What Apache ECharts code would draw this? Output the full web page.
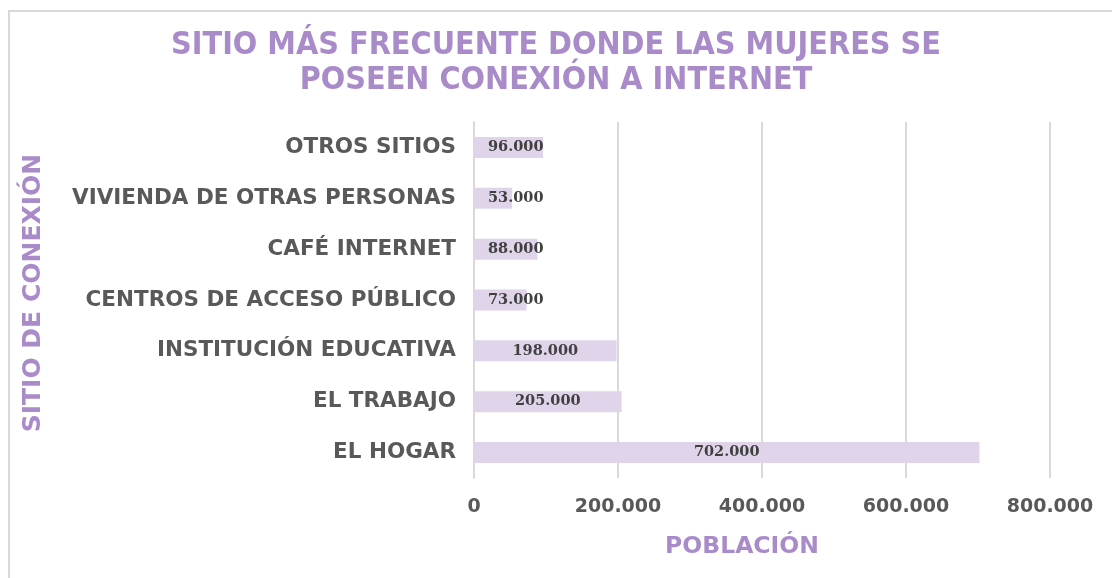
<!DOCTYPE html>
<html>
<head>
<meta charset="utf-8">
<script src="https://cdn.jsdelivr.net/npm/echarts@6/dist/echarts.min.js"></script>
<style>
  html, body { margin: 0; padding: 0; background: #fff; }
  #frame { position: absolute; left: 8px; top: 10px; width: 1120px; height: 580px; border: 2px solid #d9d9d9; box-sizing: border-box; }
  #main { position: absolute; left: 0; top: 0; width: 1112px; height: 578px; }
</style>
</head>
<body>
<div id="frame"></div>
<div id="main"></div>
<script>
// categorias (de abajo hacia arriba, como en el eje)
var sitios = ['EL HOGAR', 'EL TRABAJO', 'INSTITUCIÓN EDUCATIVA', 'CENTROS DE ACCESO PÚBLICO',
  'CAFÉ INTERNET', 'VIVIENDA DE OTRAS PERSONAS', 'OTROS SITIOS'];
var poblacion = [702000, 205000, 198000, 73000, 88000, 53000, 96000];
var ticks = [0, 200000, 400000, 600000, 800000];

var morado = '#a98bc9';
var gris = '#595959';

function miles(v) {
  return String(v).replace(/\B(?=(\d{3})+(?!\d))/g, '.');
}

var myChart = echarts.init(document.getElementById('main'));

var datos = poblacion.map(function (v) {
  var d = { value: v };
  // barras cortas: etiqueta pegada al inicio, como en el original
  if (v < 120000) {
    d.label = { position: 'insideLeft', distance: 14 };
  }
  return d;
});

myChart.setOption({
  animation: false,
  title: {
    text: 'SITIO MÁS FRECUENTE DONDE LAS MUJERES SE\nPOSEEN CONEXIÓN A INTERNET',
    left: 'center',
    top: 23,
    textStyle: {
      fontFamily: 'DejaVu Sans Condensed',
      fontWeight: 'bold',
      fontSize: 32,
      lineHeight: 35,
      color: morado
    }
  },
  grid: { left: 474, right: 62, top: 122, bottom: 100 },
  xAxis: {
    type: 'value',
    min: ticks[0],
    max: ticks[ticks.length - 1],
    interval: 200000,
    name: 'POBLACIÓN',
    nameLocation: 'middle',
    nameGap: 57,
    nameTextStyle: { fontFamily: 'DejaVu Sans', fontWeight: 'bold', fontSize: 23.5, color: morado, padding: [0, 40, 0, 0] },
    axisLine: { show: false },
    axisTick: { show: false },
    axisLabel: {
      margin: 20,
      fontFamily: 'DejaVu Sans', fontWeight: 'bold', fontSize: 19, color: gris,
      formatter: function (v) { return miles(v); }
    },
    splitLine: { lineStyle: { color: '#d9d9d9', width: 2 } }
  },
  yAxis: {
    type: 'category',
    data: sitios,
    name: 'SITIO DE CONEXIÓN',
    nameLocation: 'middle',
    nameGap: 428,
    nameRotate: 90,
    nameTextStyle: { fontFamily: 'DejaVu Sans', fontWeight: 'bold', fontSize: 25, color: morado, padding: [0, 0, 0, 14] },
    axisLine: { show: true, lineStyle: { color: '#d9d9d9', width: 2 } },
    axisTick: { show: false },
    axisLabel: {
      margin: 18,
      fontFamily: 'DejaVu Sans', fontWeight: 'bold', fontSize: 21.5, color: gris
    }
  },
  series: [{
    type: 'bar',
    data: datos,
    barWidth: 21,
    itemStyle: { color: '#e0d4ea' },
    label: {
      show: true,
      position: 'inside',
      fontFamily: 'DejaVu Serif', fontWeight: 'bold', fontSize: 14.5, color: '#404040',
      formatter: function (p) { return miles(p.value); }
    }
  }]
});
</script>
</body>
</html>
